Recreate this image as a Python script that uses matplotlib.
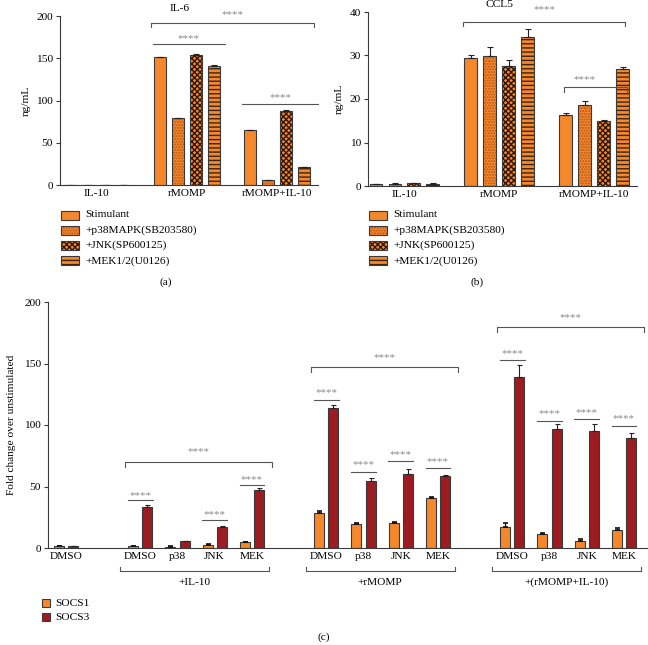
import matplotlib
matplotlib.use("Agg")
import matplotlib.pyplot as plt
import numpy as np
from matplotlib.patches import Rectangle
from matplotlib.transforms import blended_transform_factory

plt.rcParams['font.family'] = ['Liberation Serif', 'DejaVu Serif']
plt.rcParams['hatch.linewidth'] = 1.0

# ---- data ----
groups_ab = ['IL-10', 'rMOMP', 'rMOMP+IL-10']
treatments = ['Stimulant', '+p38MAPK(SB203580)', '+JNK(SP600125)', '+MEK1/2(U0126)']

il6_stim = [0.4, 151, 65]
il6_p38 = [0.3, 79, 6]
il6_jnk = [0.3, 154, 88]
il6_mek = [0.3, 141, 21]
il6_err = [[0, 0.8, 0.6], [0, 0.5, 0.4], [0, 0.8, 0.7], [0, 0.8, 0.6]]

ccl5_stim = [0.5, 29.5, 16.4]
ccl5_p38 = [0.4, 29.8, 18.6]
ccl5_jnk = [0.6, 27.7, 15.0]
ccl5_mek = [0.5, 34.3, 26.9]
ccl5_err = [[0.05, 0.6, 0.3], [0.2, 2.1, 1.0], [0.1, 1.3, 0.1], [0.1, 1.8, 0.5]]

cat_labels = ['DMSO', 'DMSO', 'p38', 'JNK', 'MEK', 'DMSO', 'p38', 'JNK', 'MEK',
              'DMSO', 'p38', 'JNK', 'MEK']
cat_group = [0, 1, 1, 1, 1, 2, 2, 2, 2, 3, 3, 3, 3]
group_names_c = ['', '+IL-10', '+rMOMP', '+(rMOMP+IL-10)']
socs1 = [1.5, 1.5, 1.0, 2.5, 4.5, 28.5, 19.5, 20.5, 40.5, 17, 11, 6, 15]
socs1_err = [0.4, 0.5, 0.4, 0.6, 0.6, 1.8, 0.5, 0.6, 0.8, 3.5, 0.8, 1.0, 1.2]
socs3 = [1.5, 33, 5.3, 17, 47, 114, 54.5, 60.5, 58.5, 139, 96.5, 95.5, 89.5]
socs3_err = [0.4, 1.8, 0.4, 1.0, 1.5, 2.0, 2.8, 3.5, 0.6, 9.5, 4.5, 5.5, 4.0]
# (category index, line height, star height)
pair_sig = [(1, 39, 43), (3, 23, 27), (4, 51, 56), (5, 120, 126), (6, 62, 68),
            (7, 71, 76), (8, 65, 70), (9, 153, 158), (10, 103, 109),
            (11, 105, 110), (12, 99, 105)]
group_sig = [(1, 70, 78), (2, 147, 155), (3, 180, 187)]

orange = '#F5882A'
red = '#9C1C22'
edge = '#3a3a3a'
star_col = '#8a8a8a'
hatches = [None, '......', 'xxxxxx', '----']
hatch_cols = [None, '#B8561A', '#2e1606', '#3a2410']
FS = 8.2

W, H = 648, 645
fig = plt.figure(figsize=(W / 100, H / 100), dpi=100)


def px_axes(left, top, right, bottom):
    return fig.add_axes([left / W, 1 - bottom / H, (right - left) / W, (bottom - top) / H])


def style(ax):
    for s in ['top', 'right']:
        ax.spines[s].set_visible(False)
    for s in ['left', 'bottom']:
        ax.spines[s].set_color(edge)
        ax.spines[s].set_linewidth(0.8)
    ax.tick_params(axis='y', length=3, width=0.8, color=edge, labelsize=FS, pad=2)
    ax.tick_params(axis='x', length=0, labelsize=FS, pad=3)


def hatched_bar(ax, x, h, w, i, err=None):
    if hatches[i] is None:
        ax.bar(x, h, w, color=orange, edgecolor=edge, linewidth=0.8)
    else:
        ax.bar(x, h, w, color=orange, edgecolor=hatch_cols[i], hatch=hatches[i], linewidth=0)
        ax.bar(x, h, w, fill=False, edgecolor=edge, linewidth=0.8)
    if err is not None:
        ax.errorbar(x, h, yerr=[np.zeros(len(h)), err], fmt='none', ecolor='#222',
                    elinewidth=0.8, capsize=2.2, capthick=0.8)


def bracket(ax, x1, x2, y, ytext, tick=0.0, fs=7.8):
    ys = [y - tick, y, y, y - tick] if tick else [y, y, y, y]
    ax.plot([x1, x1, x2, x2], ys, color='#555', lw=0.8, clip_on=False)
    ax.text((x1 + x2) / 2, ytext, '****', ha='center', va='center', color=star_col,
            fontsize=fs, clip_on=False)


def panel_ab(ax, vals, errs, ylim, yticks, title, title_x):
    for i, v in enumerate(vals):
        x = np.arange(len(groups_ab)) * 5 + i
        hatched_bar(ax, x, v, 0.68, i, errs[i])
    ax.set_ylim(*ylim)
    ax.set_yticks(yticks)
    ax.set_xticks(np.arange(len(groups_ab)) * 5 + 1.5)
    ax.set_xticklabels(groups_ab)
    ax.set_ylabel('ng/mL', fontsize=FS, labelpad=4)
    ax.text(title_x, ylim[1] * 1.02, title, ha='center', va='bottom', fontsize=FS,
            clip_on=False)
    style(ax)


# ---- panel (a) ----
ax_a = px_axes(60, 16, 318, 185)
panel_ab(ax_a, [il6_stim, il6_p38, il6_jnk, il6_mek], il6_err, (0, 200), [0, 50, 100, 150, 200],
         'IL-6', 6.1)
ax_a.set_xlim(-0.55, 13.8)
bracket(ax_a, 4.5, 13.6, 192, 202, tick=5)
bracket(ax_a, 4.6, 8.6, 167, 173)
bracket(ax_a, 9.6, 13.8, 96, 103)

# ---- panel (b) ----
ax_b = px_axes(368, 12, 637, 186)
panel_ab(ax_b, [ccl5_stim, ccl5_p38, ccl5_jnk, ccl5_mek], ccl5_err, (0, 40), [0, 10, 20, 30, 40],
         'CCL5', 6.5)
ax_b.set_xlim(-0.42, 13.75)
bracket(ax_b, 4.6, 13.1, 37.7, 40.5, tick=1.0)
ax_b.plot([9.9, 9.9, 13.2, 13.2], [21.6, 22.8, 22.8, 21.2], color='#555', lw=0.8)
ax_b.text(11.0, 24.4, '****', ha='center', va='center', color=star_col, fontsize=7.8)

# legends for (a) and (b)
for lx, tx in [(61, 85), (369, 393)]:
    for i, name in enumerate(treatments):
        cy = 215 + i * 15.3
        kw = dict(transform=fig.transFigure)
        if hatches[i] is None:
            fig.add_artist(Rectangle((lx / W, 1 - (cy + 4.5) / H), 18 / W, 9 / H,
                                     facecolor=orange, edgecolor=edge, lw=0.8, **kw))
        else:
            fig.add_artist(Rectangle((lx / W, 1 - (cy + 4.5) / H), 18 / W, 9 / H,
                                     facecolor=orange, edgecolor=hatch_cols[i],
                                     hatch=hatches[i], lw=0, **kw))
            fig.add_artist(Rectangle((lx / W, 1 - (cy + 4.5) / H), 18 / W, 9 / H,
                                     fill=False, edgecolor=edge, lw=0.8, **kw))
        fig.text(tx / W, 1 - cy / H, name, ha='left', va='center', fontsize=FS)

fig.text(166 / W, 1 - 282 / H, '(a)', ha='center', va='center', fontsize=FS)
fig.text(477 / W, 1 - 282 / H, '(b)', ha='center', va='center', fontsize=FS)

# ---- panel (c) ----
ax_c = px_axes(48, 302, 647, 548)
pos = np.arange(len(cat_labels)) + np.array(cat_group)
bw = 0.27
off = 0.19
ax_c.bar(pos - off, socs1, bw, color=orange, edgecolor=edge, linewidth=0.8)
ax_c.bar(pos + off, socs3, bw, color=red, edgecolor=edge, linewidth=0.8)
ax_c.errorbar(pos - off, socs1, yerr=[np.zeros(len(pos)), socs1_err], fmt='none',
              ecolor='#111', elinewidth=0.9, capsize=1.8, capthick=1.2)
ax_c.errorbar(pos + off, socs3, yerr=[np.zeros(len(pos)), socs3_err], fmt='none',
              ecolor='#222', elinewidth=0.8, capsize=1.8, capthick=0.8)
ax_c.set_xlim(-0.48, 15.62)
ax_c.set_ylim(0, 200)
ax_c.set_yticks([0, 50, 100, 150, 200])
ax_c.set_xticks(pos)
ax_c.set_xticklabels(cat_labels)
ax_c.set_ylabel('Fold change over unstimulated', fontsize=FS, labelpad=6)
style(ax_c)

for ci, yl, yt in pair_sig:
    bracket(ax_c, pos[ci] - 0.33, pos[ci] + 0.33, yl, yt)
for g, yl, yt in group_sig:
    p = pos[np.array(cat_group) == g]
    bracket(ax_c, p[0] - 0.42, p[-1] + 0.55, yl, yt, tick=4)

tr = blended_transform_factory(ax_c.transData, ax_c.transAxes)
for g in range(1, 4):
    p = pos[np.array(cat_group) == g]
    x1, x2 = p[0] - 0.55, p[-1] + 0.45
    ax_c.plot([x1, x1, x2, x2], [-0.077, -0.094, -0.094, -0.077], color='#555', lw=0.8,
              transform=tr, clip_on=False)
    ax_c.text((x1 + x2) / 2, -0.14, group_names_c[g], ha='center', va='center',
              fontsize=FS, transform=tr)

for i, (name, col) in enumerate([('SOCS1', orange), ('SOCS3', red)]):
    cy = 603 + i * 14
    fig.add_artist(Rectangle((42 / W, 1 - (cy + 4) / H), 8 / W, 8 / H, facecolor=col,
                             edgecolor=edge, lw=0.8, transform=fig.transFigure))
    fig.text(55 / W, 1 - cy / H, name, ha='left', va='center', fontsize=FS)

fig.text(324 / W, 1 - 637 / H, '(c)', ha='center', va='center', fontsize=FS)

fig.savefig('out.png', dpi=100)
